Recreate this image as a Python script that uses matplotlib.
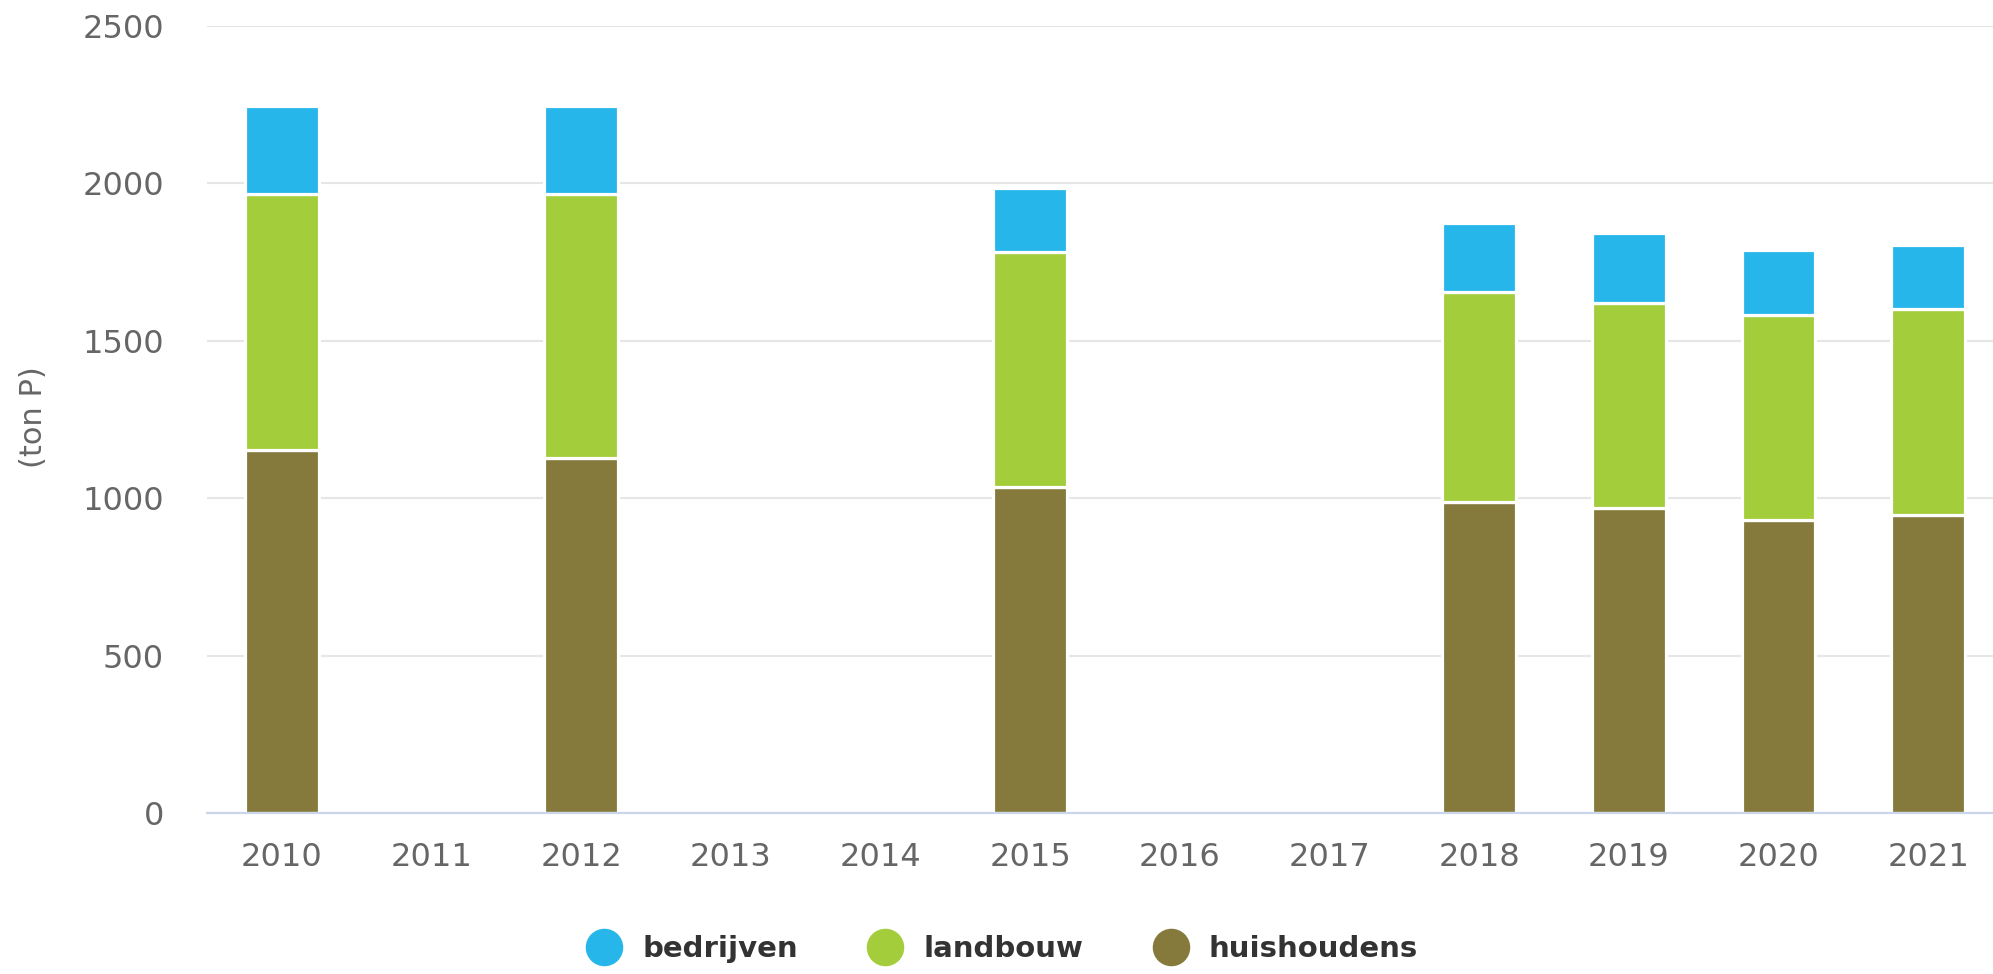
import numpy as np
import matplotlib
matplotlib.use('Agg')
import matplotlib.pyplot as plt
from matplotlib.lines import Line2D

plt.rcParams['font.family'] = ['DejaVu Sans']

# data (ton P), gaps = no data
years = ['2010', '2011', '2012', '2013', '2014', '2015', '2016', '2017', '2018', '2019', '2020', '2021']
huishoudens = [1153, np.nan, 1127, np.nan, np.nan, 1035, np.nan, np.nan, 987, 968, 930, 946]
landbouw = [812, np.nan, 838, np.nan, np.nan, 748, np.nan, np.nan, 669, 653, 653, 654]
bedrijven = [280, np.nan, 280, np.nan, np.nan, 201, np.nan, np.nan, 217, 223, 204, 205]
series_names = ['bedrijven', 'landbouw', 'huishoudens']
colors = {'bedrijven': '#27B6E9', 'landbouw': '#A3CD3B', 'huishoudens': '#857A3C'}
yticks = [0, 500, 1000, 1500, 2000, 2500]

fig = plt.figure(figsize=(19.93, 9.74), dpi=100)
ax = fig.add_axes([207 / 1993, 1 - 813 / 974, 1796 / 1993, (813 - 26) / 974])

x = np.arange(len(years))
h = np.array(huishoudens, dtype=float)
l = np.array(landbouw, dtype=float)
b = np.array(bedrijven, dtype=float)

# gestapelde staven met witte rand
w = 0.49
ax.bar(x, h, width=w, color=colors['huishoudens'], edgecolor='white', linewidth=2.3, zorder=3)
ax.bar(x, l, width=w, bottom=h, color=colors['landbouw'], edgecolor='white', linewidth=2.3, zorder=3)
ax.bar(x, b, width=w, bottom=h + l, color=colors['bedrijven'], edgecolor='white', linewidth=2.3, zorder=3)

ax.set_xlim(-0.5, len(years) - 0.5)
ax.set_ylim(0, 2500)
ax.set_xticks(x)
ax.set_xticklabels(years)
ax.set_yticks(yticks)
ax.tick_params(axis='both', length=0, labelsize=23, labelcolor='#666666')
ax.tick_params(axis='x', pad=21)
ax.tick_params(axis='y', pad=31)

# grid
ax.grid(axis='y', color='#e6e6e6', linewidth=1.5, zorder=0)
ax.set_axisbelow(True)
for s in ['top', 'right', 'left']:
    ax.spines[s].set_visible(False)
ax.spines['bottom'].set_color('#ccd6eb')
ax.spines['bottom'].set_linewidth(1.6)
ax.spines['bottom'].set_zorder(4)

fig.text(33 / 1993, 1 - 417 / 974, '(ton P)', rotation=90, ha='center', va='center',
         fontsize=22, color='#666666')

# legend onder de grafiek
handles = [Line2D([], [], marker='o', linestyle='none', markersize=26,
                  markerfacecolor=colors[n], markeredgecolor=colors[n]) for n in series_names]
leg = fig.legend(handles, series_names, loc='center', bbox_to_anchor=(0.5, 1 - 949 / 974),
                 ncol=3, frameon=False, handletextpad=0.3, columnspacing=2.0,
                 prop={'size': 21, 'weight': 'bold'})
for t in leg.get_texts():
    t.set_color('#333333')

plt.savefig('out.png', dpi=100)
